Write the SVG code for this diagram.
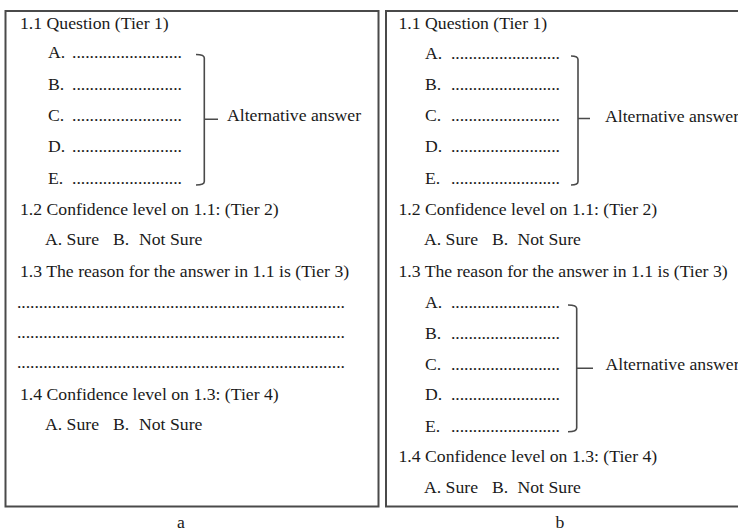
<svg xmlns="http://www.w3.org/2000/svg" width="738" height="529" viewBox="0 0 738 529">
<style>
  text { font-family: "Liberation Serif", "Times New Roman", serif; font-size: 17.7px; fill: #1a1a1a; }
  .box { fill: #ffffff; stroke: #4a4a4a; stroke-width: 2; }
  .brace { fill: none; stroke: #4a4a4a; stroke-width: 1.6; }
</style>
<rect x="0" y="0" width="738" height="529" fill="#ffffff"/>

<g id="panel-a">
  <rect class="box" x="5.5" y="11" width="373" height="495.5"/>
  <text x="20" y="29">1.1 Question (Tier 1)</text>
  <g id="a-tier1-options">
    <text x="48" y="58">A.</text><text x="72" y="58" textLength="110" lengthAdjust="spacing">.........................</text>
    <text x="48" y="90">B.</text><text x="72" y="90" textLength="110" lengthAdjust="spacing">.........................</text>
    <text x="48" y="121">C.</text><text x="72" y="121" textLength="110" lengthAdjust="spacing">.........................</text>
    <text x="48" y="152">D.</text><text x="72" y="152" textLength="110" lengthAdjust="spacing">.........................</text>
    <text x="48" y="183.5">E.</text><text x="72" y="183.5" textLength="110" lengthAdjust="spacing">.........................</text>
  </g>
  <text x="227" y="121">Alternative answer</text>
  <text x="20" y="215">1.2 Confidence level on 1.1: (Tier 2)</text>
  <text y="245"><tspan x="45">A. Sure</tspan><tspan x="113">B.</tspan><tspan x="139">Not Sure</tspan></text>
  <text x="20" y="277">1.3 The reason for the answer in 1.1 is (Tier 3)</text>
  <text x="17" y="308" textLength="328" lengthAdjust="spacing">...........................................................................</text>
  <text x="17" y="338" textLength="328" lengthAdjust="spacing">...........................................................................</text>
  <text x="17" y="368" textLength="328" lengthAdjust="spacing">...........................................................................</text>
  <text x="20" y="400">1.4 Confidence level on 1.3: (Tier 4)</text>
  <text y="430"><tspan x="45">A. Sure</tspan><tspan x="113">B.</tspan><tspan x="139">Not Sure</tspan></text>
</g>

<g id="panel-b">
  <rect class="box" x="386" y="11" width="380" height="495.5"/>
  <text x="398.5" y="29">1.1 Question (Tier 1)</text>
  <g id="b-tier1-options">
    <text x="425" y="59">A.</text><text x="451" y="59" textLength="109" lengthAdjust="spacing">.........................</text>
    <text x="425" y="90">B.</text><text x="451" y="90" textLength="109" lengthAdjust="spacing">.........................</text>
    <text x="425" y="121">C.</text><text x="451" y="121" textLength="109" lengthAdjust="spacing">.........................</text>
    <text x="425" y="152">D.</text><text x="451" y="152" textLength="109" lengthAdjust="spacing">.........................</text>
    <text x="425" y="183.5">E.</text><text x="451" y="183.5" textLength="109" lengthAdjust="spacing">.........................</text>
  </g>
  <text x="605" y="122">Alternative answer</text>
  <text x="398.5" y="215">1.2 Confidence level on 1.1: (Tier 2)</text>
  <text y="245"><tspan x="424">A. Sure</tspan><tspan x="492">B.</tspan><tspan x="517.5">Not Sure</tspan></text>
  <text x="398.5" y="277">1.3 The reason for the answer in 1.1 is (Tier 3)</text>
  <g id="b-tier3-options">
    <text x="425" y="307.5">A.</text><text x="451" y="307.5" textLength="109" lengthAdjust="spacing">.........................</text>
    <text x="425" y="338.5">B.</text><text x="451" y="338.5" textLength="109" lengthAdjust="spacing">.........................</text>
    <text x="425" y="369.5">C.</text><text x="451" y="369.5" textLength="109" lengthAdjust="spacing">.........................</text>
    <text x="425" y="400">D.</text><text x="451" y="400" textLength="109" lengthAdjust="spacing">.........................</text>
    <text x="425" y="431.5">E.</text><text x="451" y="431.5" textLength="109" lengthAdjust="spacing">.........................</text>
  </g>
  <text x="605.5" y="370">Alternative answer</text>
  <text x="398.5" y="462">1.4 Confidence level on 1.3: (Tier 4)</text>
  <text y="493"><tspan x="424">A. Sure</tspan><tspan x="492">B.</tspan><tspan x="517.5">Not Sure</tspan></text>
</g>

<g id="connectors">
  <path class="brace" d="M196,54.5 Q204.3,54.5 204.3,58 V181.5 Q204.3,185 196,185 M204.3,119.3 H218"/>
  <path class="brace" d="M571,56 Q578,56 578,59.5 V181.5 Q578,185 571,185 M578,118.5 H590"/>
  <path class="brace" d="M568,305 Q576.7,305 576.7,308.5 V428 Q576.7,431.7 568,431.7 M576.7,368.3 H593"/>
</g>

<g id="captions">
  <text x="181" y="528" text-anchor="middle">a</text>
  <text x="560" y="528" text-anchor="middle">b</text>
</g>
</svg>
